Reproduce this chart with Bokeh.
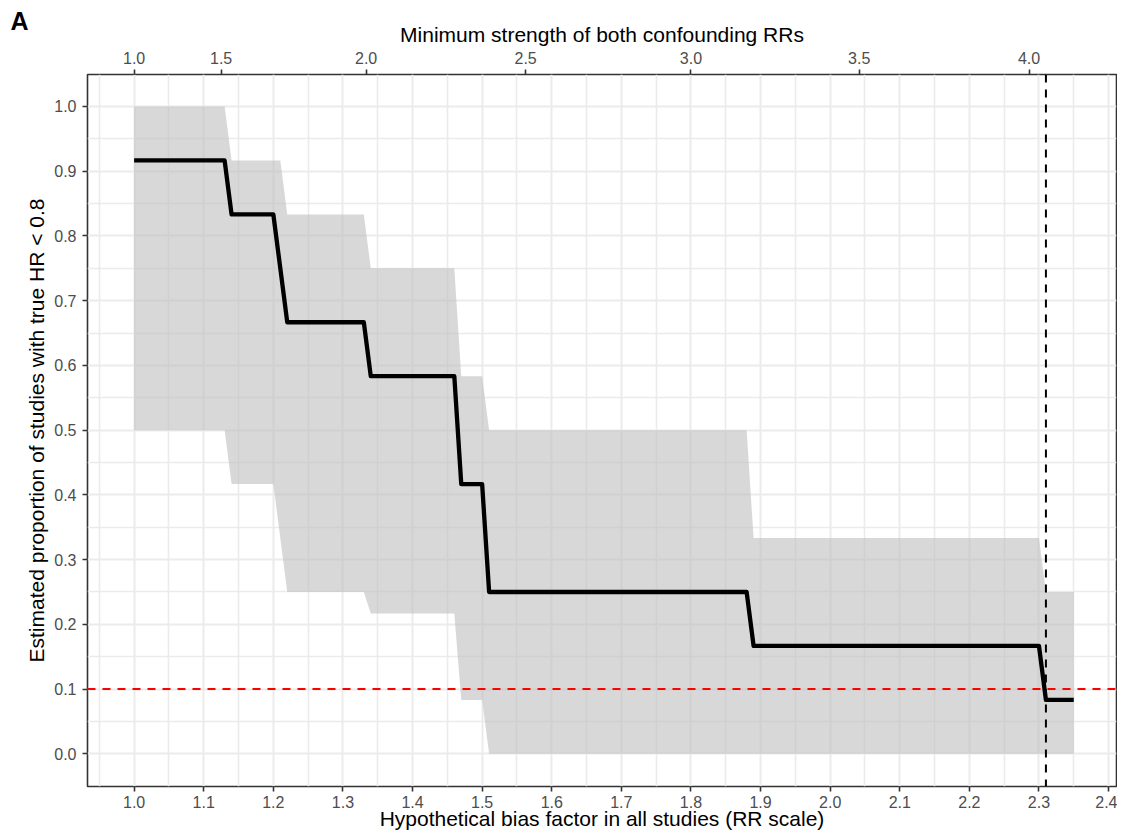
from bokeh.plotting import figure
from bokeh.models import (LinearAxis, FixedTicker, PrintfTickFormatter, CustomJSTickFormatter,
                          Span, Range1d, Label)
from bokeh.embed import file_html
from bokeh.resources import INLINE

# ---- data ----
bias = [1.00, 1.13, 1.14, 1.20, 1.21, 1.22, 1.33, 1.34, 1.46, 1.47, 1.50, 1.51,
        1.88, 1.89, 2.30, 2.31, 2.35]
est = [0.9167, 0.9167, 0.8333, 0.8333, 0.75, 0.6667, 0.6667, 0.5833, 0.5833, 0.4167,
       0.4167, 0.25, 0.25, 0.1667, 0.1667, 0.0833, 0.0833]
lo = [0.5, 0.5, 0.4167, 0.4167, 0.3333, 0.25, 0.25, 0.2167, 0.2167, 0.0833,
      0.0833, 0.0, 0.0, 0.0, 0.0, 0.0, 0.0]
hi = [1.0, 1.0, 0.9167, 0.9167, 0.9167, 0.8333, 0.8333, 0.75, 0.75, 0.5833,
      0.5833, 0.5, 0.5, 0.3333, 0.3333, 0.25, 0.25]

x_ticks = [1.0, 1.1, 1.2, 1.3, 1.4, 1.5, 1.6, 1.7, 1.8, 1.9, 2.0, 2.1, 2.2, 2.3, 2.4]
x_minor = [0.95, 1.05, 1.15, 1.25, 1.35, 1.45, 1.55, 1.65, 1.75, 1.85, 1.95, 2.05,
           2.15, 2.25, 2.35]
y_ticks = [0.0, 0.1, 0.2, 0.3, 0.4, 0.5, 0.6, 0.7, 0.8, 0.9, 1.0]
y_minor = [0.05, 0.15, 0.25, 0.35, 0.45, 0.55, 0.65, 0.75, 0.85, 0.95]
evalue_ticks = [1.0, 1.5, 2.0, 2.5, 3.0, 3.5, 4.0]   # top axis labels
threshold_q = 0.1
bias_cut = 2.31
panel_tag = "A"

# top-axis positions: RR whose E-value equals each label
evalue_pos = [e * e / (2 * e - 1) for e in evalue_ticks]

FONT = "Liberation Sans"

p = figure(width=1117, height=832, output_backend="svg", toolbar_location=None,
           x_range=Range1d(0.933, 2.4114), y_range=Range1d(-0.0505, 1.0494),
           min_border_left=87, min_border_right=1, min_border_top=74, min_border_bottom=46)
p.background_fill_color = "white"
p.border_fill_color = "white"
p.outline_line_color = "#333333"
p.outline_line_width = 1.6

# grids
p.xgrid.ticker = FixedTicker(ticks=x_ticks, minor_ticks=x_minor)
p.ygrid.ticker = FixedTicker(ticks=y_ticks, minor_ticks=y_minor)
for g in (p.xgrid, p.ygrid):
    g.grid_line_color = "#EBEBEB"
    g.grid_line_width = 2
    g.minor_grid_line_color = "#EBEBEB"
    g.minor_grid_line_width = 1.6

# ribbon + line
p.varea(x=bias, y1=lo, y2=hi, fill_color="#BEBEBE", fill_alpha=0.6)
p.line(x=bias, y=est, line_color="black", line_width=4.3, line_join="round")

p.add_layout(Span(location=threshold_q, dimension="width", line_color="#FF0000",
                  line_width=2, line_dash="8 7"))
p.add_layout(Span(location=bias_cut, dimension="height", line_color="black",
                  line_width=2, line_dash="8 7"))

def style_axis(ax, standoff, title_standoff):
    ax.axis_line_color = None
    ax.major_tick_line_color = "#333333"
    ax.major_tick_line_width = 1.6
    ax.major_tick_out = 5
    ax.major_tick_in = 0
    ax.minor_tick_line_color = None
    ax.major_label_text_font = FONT
    ax.major_label_text_font_size = "16px"
    ax.major_label_text_color = "#4D4D4D"
    ax.major_label_standoff = standoff
    ax.axis_label_text_font = FONT
    ax.axis_label_text_font_size = "21px"
    ax.axis_label_text_font_style = "normal"
    ax.axis_label_text_color = "black"
    ax.axis_label_standoff = title_standoff

xa = p.xaxis[0]
xa.ticker = FixedTicker(ticks=x_ticks)
xa.formatter = PrintfTickFormatter(format="%.1f")
xa.axis_label = "Hypothetical bias factor in all studies (RR scale)"
style_axis(xa, 4, -4)

ya = p.yaxis[0]
ya.ticker = FixedTicker(ticks=y_ticks)
ya.formatter = PrintfTickFormatter(format="%.1f")
ya.axis_label = "Estimated proportion of studies with true HR < 0.8"
style_axis(ya, 6, 3)

top = LinearAxis(ticker=FixedTicker(ticks=evalue_pos),
                 formatter=CustomJSTickFormatter(code="return (tick + Math.sqrt(tick*(tick-1))).toFixed(1);"),
                 axis_label="Minimum strength of both confounding RRs")
style_axis(top, 6, 3)
p.add_layout(top, "above")

# panel tag placed in the left side panel so it is not clipped by the frame
tag = Label(x=0.8224, y=1.1313, text=panel_tag, text_font=FONT, text_font_size="25px",
            text_font_style="bold", text_color="black", text_align="left",
            text_baseline="alphabetic")
p.add_layout(tag, "left")

open("out.html", "w").write(file_html(p, INLINE))
